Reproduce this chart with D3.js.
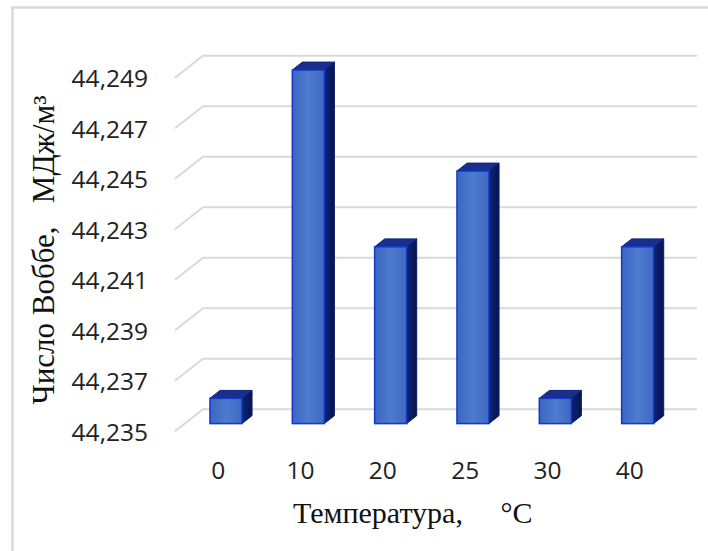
<!DOCTYPE html>
<html>
<head>
<meta charset="utf-8">
<script src="https://cdn.jsdelivr.net/npm/d3@7/dist/d3.min.js"></script>
<style>
  html, body { margin: 0; padding: 0; background: #fff; }
  svg { display: block; }
</style>
</head>
<body>
<svg id="chart" width="708" height="551"></svg>
<script>
// ---- data ----
const categories = ["0", "10", "20", "25", "30", "40"];
const values = [44.236, 44.249, 44.242, 44.245, 44.236, 44.242];
const tickValues = [44.235, 44.237, 44.239, 44.241, 44.243, 44.245, 44.247, 44.249];
const yTitle = "Число Воббе,   МДж/м³";
const xTitle = "Температура,     °C";

// ---- layout ----
const svg = d3.select("#chart");
const depthX = 28, depthY = 22;          // floor depth offset (front -> back)
const barD0 = 0.35, barD1 = 0.71;        // bar depth placement
const yMin = 44.235, yMax = 44.249;

const y = d3.scaleLinear().domain([yMin, yMax]).range([409.3, 55.7]); // back wall
const x = d3.scaleBand().domain(categories).range([175, 669]).paddingInner(0).paddingOuter(0);
const barW = 32;

// chart area border
svg.append("path")
  .attr("d", "M12.5,551 L12.5,7.5 L708,7.5")
  .attr("fill", "none").attr("stroke", "#d9d9d9").attr("stroke-width", 2.5);

// gradients
const defs = svg.append("defs");
const gf = defs.append("linearGradient").attr("id", "gFront").attr("x1", "0").attr("x2", "1").attr("y1", "0").attr("y2", "0");
gf.append("stop").attr("offset", "0").attr("stop-color", "#3b66c4");
gf.append("stop").attr("offset", "0.5").attr("stop-color", "#4d7bcd");
gf.append("stop").attr("offset", "1").attr("stop-color", "#3f69c4");
const gs = defs.append("linearGradient").attr("id", "gSide").attr("x1", "0").attr("x2", "1").attr("y1", "0").attr("y2", "0");
gs.append("stop").attr("offset", "0").attr("stop-color", "#0d2377");
gs.append("stop").attr("offset", "1").attr("stop-color", "#06154f");

// gridlines (back wall + left floor diagonals)
const grid = svg.append("g");
tickValues.forEach(v => {
  const yb = y(v);
  grid.append("path")
    .attr("d", `M175,${yb + depthY} L${175 + depthX},${yb} L${669 + depthX},${yb}`)
    .attr("fill", "none").attr("stroke", "#d9d9d9").attr("stroke-width", 2);
});

// y tick labels
const fmt = d3.format(".3f");
svg.append("g").selectAll("text").data(tickValues).join("text")
  .attr("x", 148)
  .attr("y", d => y(d) + depthY)
  .attr("text-anchor", "end")
  .attr("dominant-baseline", "central")
  .attr("font-family", "'Open Sans', sans-serif")
  .attr("font-size", 24.5)
  .attr("fill", "#222")
  .text(d => fmt(d).replace(".", ","));

// bars
const bars = svg.append("g").selectAll("g").data(categories.map((c, i) => ({ c, v: values[i] }))).join("g");
const fdx = depthX * barD0, fdy = depthY * (1 - barD0);
const ddx = depthX * (barD1 - barD0), ddy = depthY * (barD1 - barD0);
bars.each(function(d) {
  const g = d3.select(this);
  const cx = x(d.c) + x.bandwidth() / 2 + fdx;
  const xl = cx - barW / 2, xr = cx + barW / 2;
  const yt = y(d.v) + fdy, yb = y(yMin) + fdy;
  // side
  g.append("path")
    .attr("d", `M${xr},${yt} L${xr + ddx},${yt - ddy} L${xr + ddx},${yb - ddy} L${xr},${yb} Z`)
    .attr("fill", "url(#gSide)").attr("stroke", "#081a66").attr("stroke-width", 1);
  // top
  g.append("path")
    .attr("d", `M${xl},${yt} L${xr},${yt} L${xr + ddx},${yt - ddy} L${xl + ddx},${yt - ddy} Z`)
    .attr("fill", "#1a2f8c").attr("stroke", "#0c2080").attr("stroke-width", 1);
  // front
  g.append("rect")
    .attr("x", xl).attr("y", yt).attr("width", barW).attr("height", yb - yt)
    .attr("fill", "url(#gFront)").attr("stroke", "#1438c8").attr("stroke-width", 1.5);
});

// x tick labels
svg.append("g").selectAll("text").data(categories).join("text")
  .attr("x", d => x(d) + x.bandwidth() / 2 + 2)
  .attr("y", 469)
  .attr("text-anchor", "middle")
  .attr("dominant-baseline", "central")
  .attr("font-family", "'Open Sans', sans-serif")
  .attr("font-size", 24.5)
  .attr("fill", "#222")
  .text(d => d);

// axis titles
svg.append("text")
  .attr("x", 293).attr("y", 523)
  .attr("font-family", "'Liberation Serif', 'Times New Roman', serif")
  .attr("font-size", 30)
  .attr("fill", "#111")
  .style("white-space", "pre")
  .text(xTitle);

svg.append("text")
  .attr("transform", "translate(54,250) rotate(-90)")
  .attr("text-anchor", "middle")
  .attr("font-family", "'Liberation Serif', 'Times New Roman', serif")
  .attr("font-size", 31)
  .attr("fill", "#111")
  .style("white-space", "pre")
  .text(yTitle);
</script>
</body>
</html>
